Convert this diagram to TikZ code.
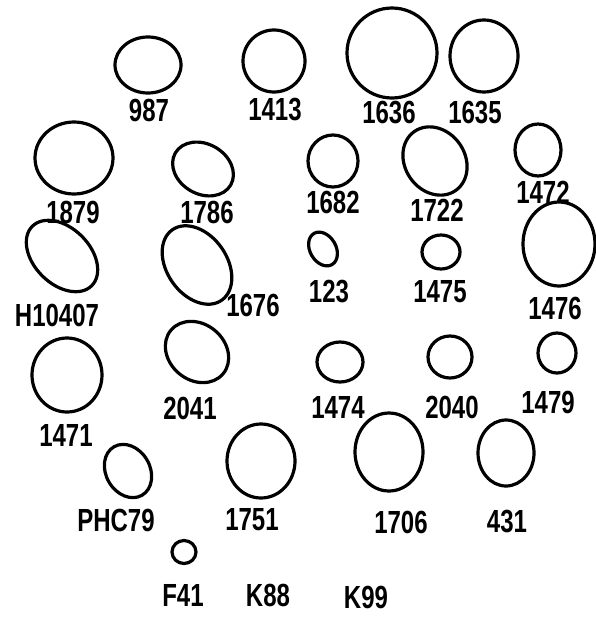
\documentclass[tikz,border=0pt]{standalone}
\usepackage{fontspec}
\newfontfamily\labfont{Liberation Sans}[FakeStretch=0.75]
\begin{document}
\begin{tikzpicture}[x=1pt,y=-1pt,
  cell/.style={line width=3.2pt,black},
  lab/.style={font=\labfont\bfseries\fontsize{32}{34}\selectfont,inner sep=0pt,text=black}]
\useasboundingbox[fill=white] (0,0) rectangle (595,618);
% cells
\draw[cell] (148,65) ellipse [x radius=33pt, y radius=28pt];
\draw[cell] (274,61) ellipse [x radius=31pt, y radius=31pt];
\draw[cell] (392,53) ellipse [x radius=45pt, y radius=45pt];
\draw[cell] (484,56) ellipse [x radius=34pt, y radius=36pt];
\draw[cell] (74,158) ellipse [x radius=39pt, y radius=36pt];
\draw[cell,rotate around={-30:(203,169)}] (203,169) ellipse [x radius=32pt, y radius=25pt];
\draw[cell] (333,161) ellipse [x radius=25pt, y radius=26pt];
\draw[cell,rotate around={-55:(435,161)}] (435,161) ellipse [x radius=36pt, y radius=30pt];
\draw[cell] (538,150) ellipse [x radius=23pt, y radius=26pt];
\draw[cell,rotate around={-45:(62,256)}] (62,256) ellipse [x radius=42pt, y radius=28pt];
\draw[cell,rotate around={-55:(197,265)}] (197,265) ellipse [x radius=43pt, y radius=30pt];
\draw[cell,rotate around={-60:(323,249)}] (323,249) ellipse [x radius=18pt, y radius=13pt];
\draw[cell] (441,252) ellipse [x radius=19pt, y radius=17pt];
\draw[cell] (559,244) ellipse [x radius=36pt, y radius=42pt];
\draw[cell] (67,375) ellipse [x radius=35pt, y radius=37pt];
\draw[cell,rotate around={-40:(197,352)}] (197,352) ellipse [x radius=34pt, y radius=28pt];
\draw[cell] (340,362) ellipse [x radius=23pt, y radius=20pt];
\draw[cell] (450,357) ellipse [x radius=22pt, y radius=21pt];
\draw[cell] (557,353) ellipse [x radius=19pt, y radius=20pt];
\draw[cell,rotate around={-60:(128,471)}] (128,471) ellipse [x radius=28pt, y radius=22pt];
\draw[cell] (261,461) ellipse [x radius=34pt, y radius=37pt];
\draw[cell] (389,452) ellipse [x radius=34pt, y radius=39pt];
\draw[cell] (506,453) ellipse [x radius=28pt, y radius=33pt];
\draw[cell] (184,552) ellipse [x radius=12pt, y radius=11.5pt];
% labels
\node[lab] (l987) at (149,110) {987};
\node[lab] (l1413) at (275,110) {1413};
\node[lab] (l1636) at (389,113) {1636};
\node[lab] (l1635) at (475,113) {1635};
\node[lab] (l1879) at (73,212) {1879};
\node[lab] (l1786) at (207,212) {1786};
\node[lab] (l1682) at (333,202) {1682};
\node[lab] (l1722) at (437,210) {1722};
\node[lab] (l1472) at (543,192) {1472};
\node[lab] (lH10407) at (57,315) {H10407};
\node[lab] (l1676) at (253,305) {1676};
\node[lab] (l123) at (329,292) {123};
\node[lab] (l1475) at (440,292) {1475};
\node[lab] (l1476) at (555,308) {1476};
\node[lab] (l1471) at (66,435) {1471};
\node[lab] (l2041) at (190,408) {2041};
\node[lab] (l1474) at (338,407) {1474};
\node[lab] (l2040) at (452,407) {2040};
\node[lab] (l1479) at (548,402) {1479};
\node[lab] (lPHC79) at (116,520) {PHC79};
\node[lab] (l1751) at (252,520) {1751};
\node[lab] (l1706) at (401,522) {1706};
\node[lab] (l431) at (507,522) {431};
\node[lab] (lF41) at (183,595) {F41};
\node[lab] (lK88) at (268,595) {K88};
\node[lab] (lK99) at (366,597) {K99};
\end{tikzpicture}
\end{document}
